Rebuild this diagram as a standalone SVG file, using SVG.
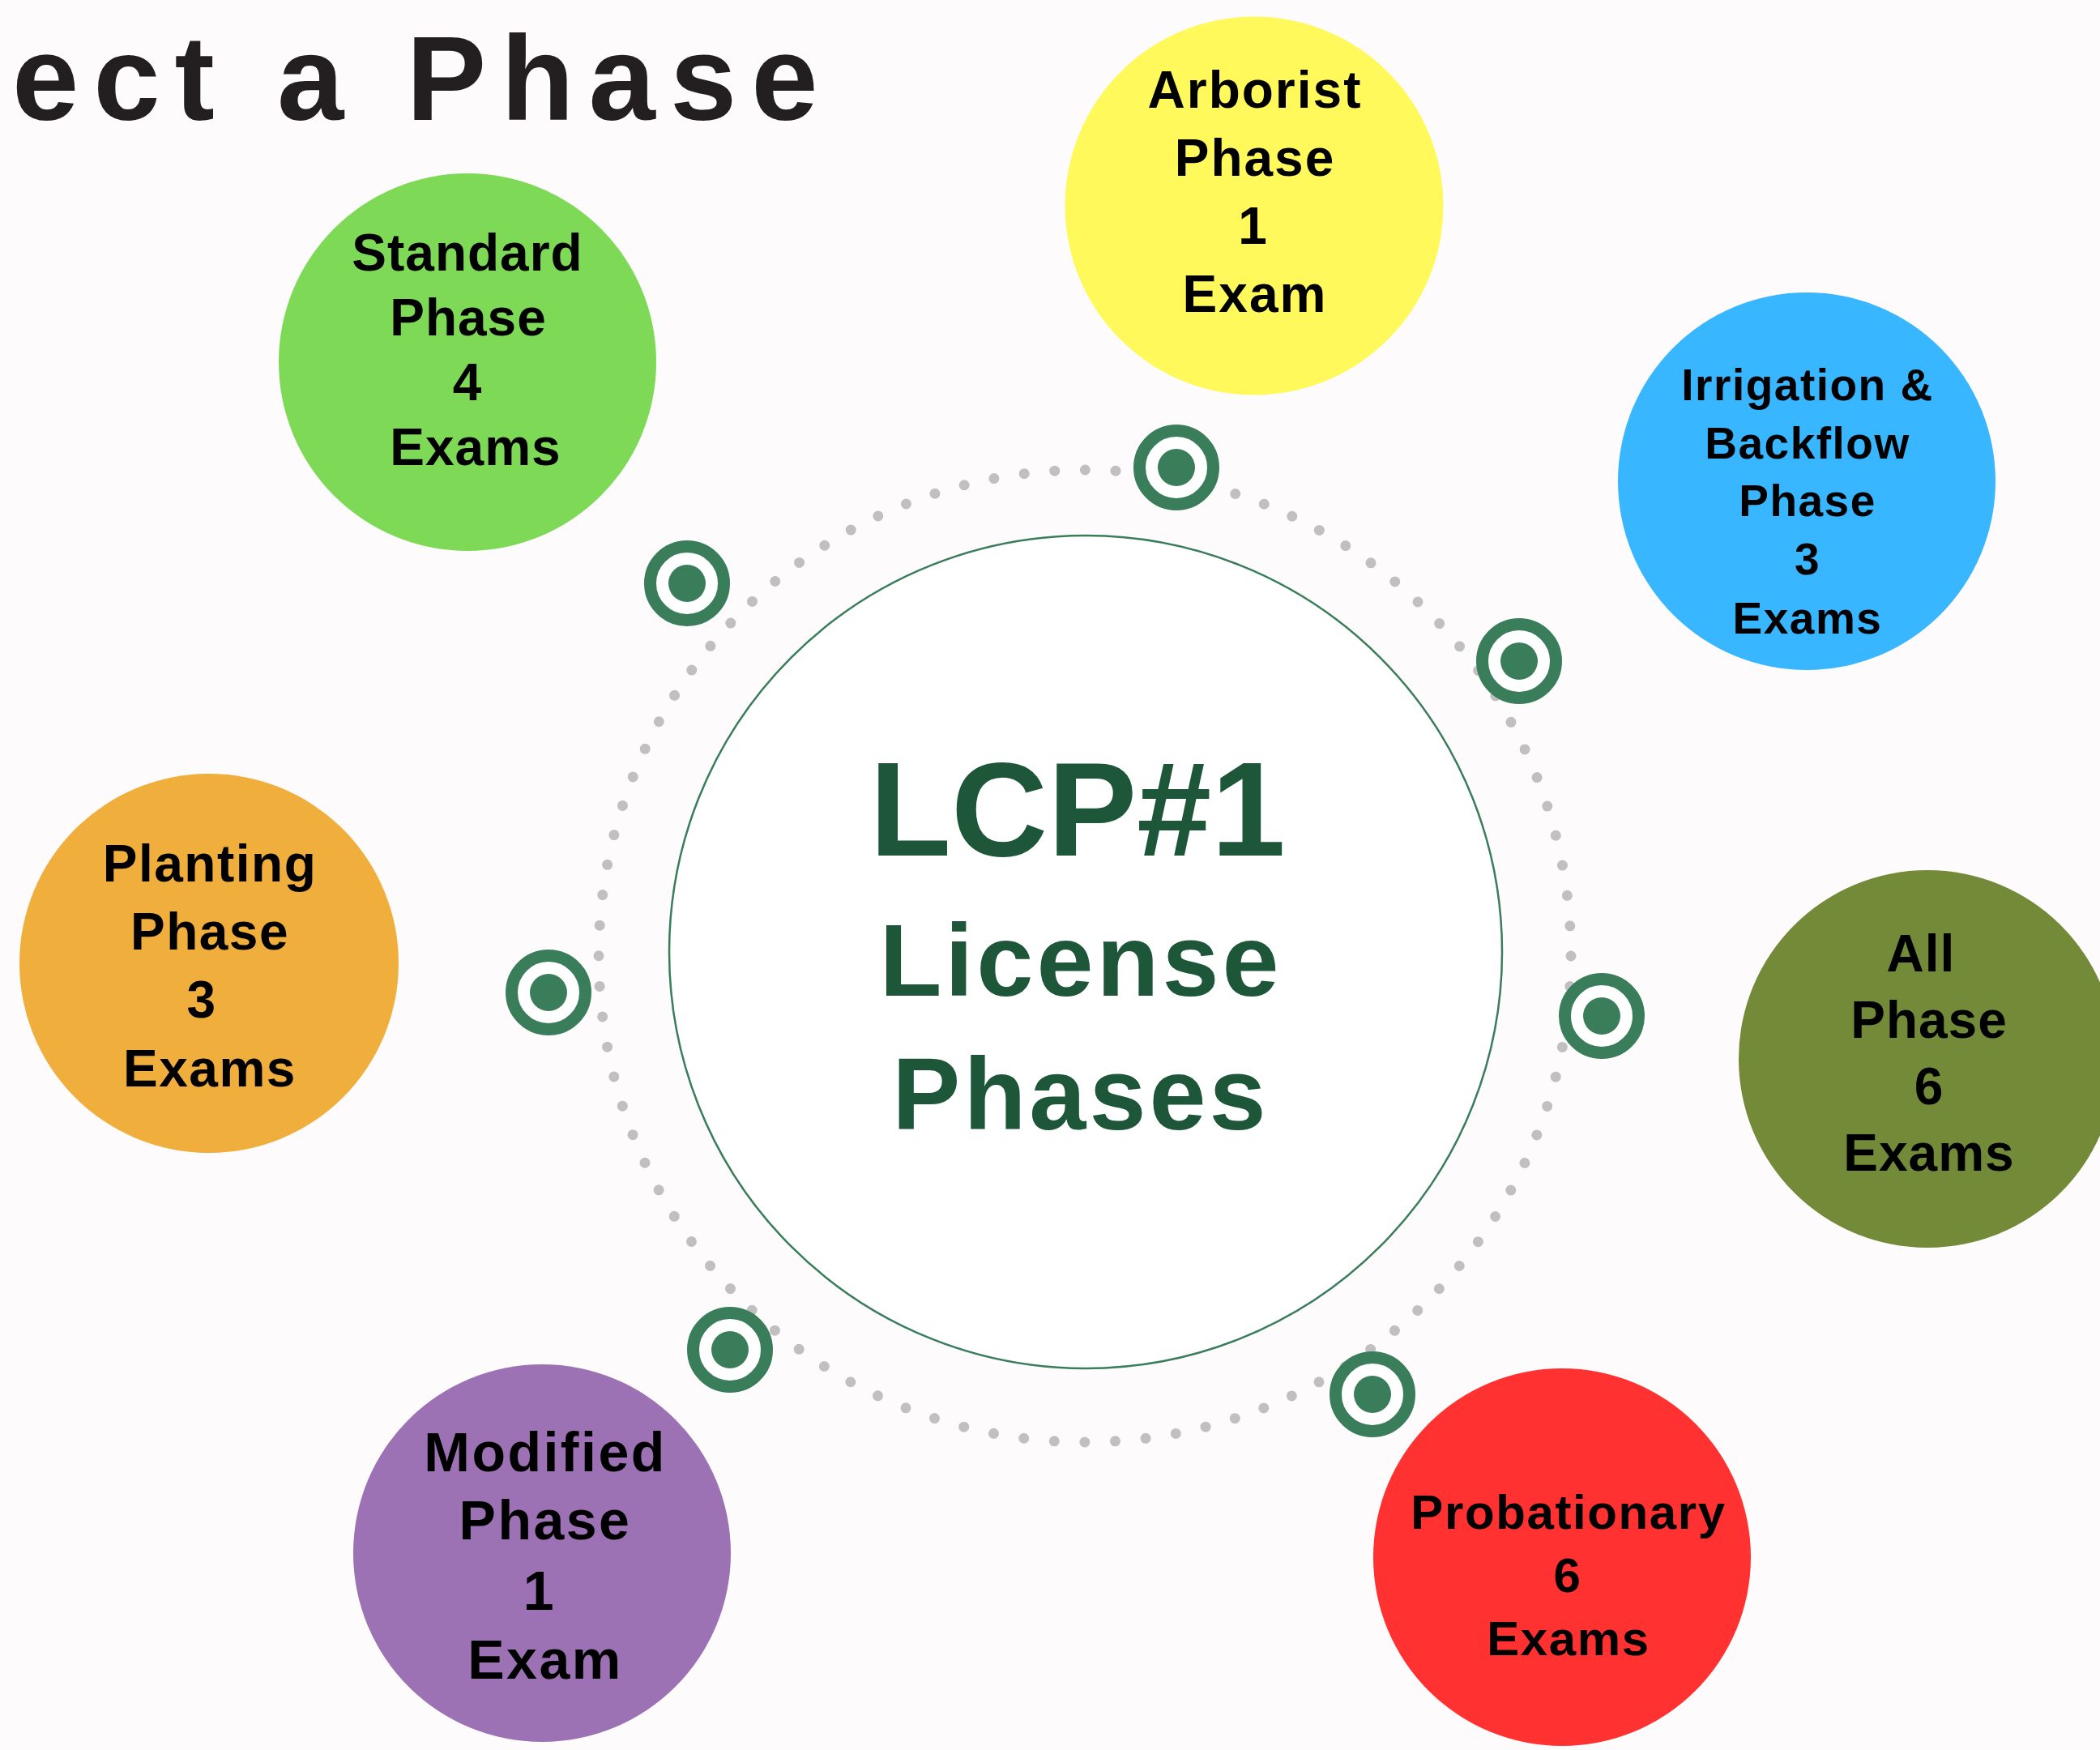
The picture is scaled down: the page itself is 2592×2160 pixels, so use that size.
<svg xmlns="http://www.w3.org/2000/svg" width="2592" height="2160" viewBox="0 0 2592 2160">
  <style>
    .lbl { font-family: "Liberation Sans", Arial, sans-serif; font-weight: bold; fill: #000000; text-anchor: middle; }
    .hub { font-family: "Liberation Sans", Arial, sans-serif; font-weight: bold; fill: #1d5639; text-anchor: middle; }
    .ring { fill: #ffffff; stroke: #3a7d5b; stroke-width: 15; }
    .ringdot { fill: #3a7d5b; }
  </style>
  <defs>
    <g id="target">
      <circle class="ring" cx="0" cy="0" r="45.5"/>
      <circle class="ringdot" cx="0" cy="0" r="23"/>
    </g>
  </defs>
  <rect x="0" y="0" width="2592" height="2160" fill="#fdfbfc"/>

  <text id="title" x="15" y="148" font-family="Liberation Sans, Arial, sans-serif" font-weight="bold" font-size="148" letter-spacing="18" fill="#231f20">ect a Phase</text>

  <g id="connectors">
    <circle cx="1339" cy="1180" r="600" fill="none" stroke="#c0c0c0" stroke-width="13" stroke-linecap="round" stroke-dasharray="0 37.7"/>
  </g>

  <g id="hub">
    <circle cx="1340" cy="1175" r="514" fill="#ffffff" stroke="#3a7d5b" stroke-width="2.5"/>
    <text class="hub" x="1330" y="1056" font-size="165">LCP#1</text>
    <text class="hub" x="1334" y="1229" font-size="126" letter-spacing="4">License</text>
    <text class="hub" x="1334" y="1394" font-size="126" letter-spacing="4">Phases</text>
  </g>

  <g id="targets">
    <use href="#target" x="1452" y="577"/>
    <use href="#target" x="848" y="720"/>
    <use href="#target" x="1875" y="816"/>
    <use href="#target" x="677" y="1225"/>
    <use href="#target" x="1977" y="1254"/>
    <use href="#target" x="901" y="1666"/>
    <use href="#target" x="1694" y="1721"/>
  </g>

  <g id="node-standard">
    <circle cx="577" cy="447" r="233" fill="#7ed957"/>
    <g class="lbl" font-size="64" letter-spacing="1">
      <text x="577" y="334">Standard</text>
      <text x="578" y="414">Phase</text>
      <text x="577" y="494">4</text>
      <text x="587" y="574">Exams</text>
    </g>
  </g>

  <g id="node-arborist">
    <circle cx="1548" cy="254" r="233.5" fill="#fff95b"/>
    <g class="lbl" font-size="64" letter-spacing="2">
      <text x="1549" y="133">Arborist</text>
      <text x="1549" y="217">Phase</text>
      <text x="1547" y="301">1</text>
      <text x="1549" y="385">Exam</text>
    </g>
  </g>

  <g id="node-irrigation">
    <circle cx="2230" cy="594" r="233" fill="#38b6ff"/>
    <g class="lbl" font-size="55" letter-spacing="1.5">
      <text x="2231" y="494">Irrigation &amp;</text>
      <text x="2231" y="566">Backflow</text>
      <text x="2231" y="637">Phase</text>
      <text x="2231" y="709">3</text>
      <text x="2231" y="782">Exams</text>
    </g>
  </g>

  <g id="node-all">
    <circle cx="2379" cy="1307" r="233" fill="#738a39"/>
    <g class="lbl" font-size="64" letter-spacing="1">
      <text x="2371" y="1199">All</text>
      <text x="2381" y="1281">Phase</text>
      <text x="2381" y="1363">6</text>
      <text x="2381" y="1445">Exams</text>
    </g>
  </g>

  <g id="node-planting">
    <circle cx="258" cy="1189" r="234" fill="#f0ae3c"/>
    <g class="lbl" font-size="64" letter-spacing="1.5">
      <text x="259" y="1088">Planting</text>
      <text x="259" y="1172">Phase</text>
      <text x="249" y="1256">3</text>
      <text x="259" y="1341">Exams</text>
    </g>
  </g>

  <g id="node-modified">
    <circle cx="669" cy="1917" r="233" fill="#9c72b4"/>
    <g class="lbl" font-size="68" letter-spacing="2.5">
      <text x="673" y="1816">Modified</text>
      <text x="673" y="1900">Phase</text>
      <text x="666" y="1987">1</text>
      <text x="673" y="2072">Exam</text>
    </g>
  </g>

  <g id="node-probationary">
    <circle cx="1928" cy="1922" r="233" fill="#ff3131"/>
    <g class="lbl" font-size="60" letter-spacing="1.6">
      <text x="1936" y="1887">Probationary</text>
      <text x="1935" y="1965">6</text>
      <text x="1936" y="2043">Exams</text>
    </g>
  </g>
</svg>
